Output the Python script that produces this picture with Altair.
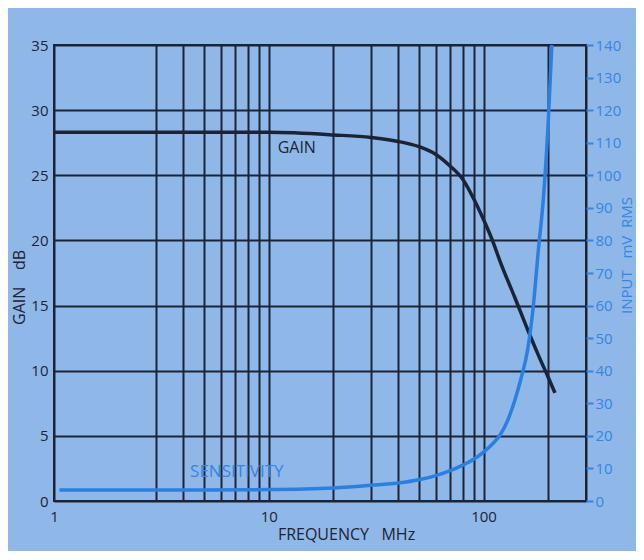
import altair as alt
import pandas as pd

# Gain curve (left axis, dB)
gain_freq = [1, 10, 20, 30, 40, 50, 60, 70, 80, 90, 100, 110, 120, 140, 160, 180, 200, 215]
gain_db = [28.3, 28.3, 28.1, 27.9, 27.6, 27.2, 26.6, 25.7, 24.7, 23.2, 21.6, 20.0, 18.3, 15.6, 13.2, 11.2, 9.5, 8.3]

# Sensitivity curve (right axis, mV RMS)
sens_freq = [1.06, 2, 5, 10, 20, 30, 40, 50, 60, 70, 80, 90, 100, 110, 120, 130, 140, 150, 160, 170, 180, 190, 200, 208]
sens_mv = [3.4, 3.4, 3.4, 3.5, 4.0, 4.8, 5.5, 6.5, 7.8, 9.3, 11.0, 12.8, 15.0, 17.5, 20.5, 25.0, 31.0, 38.0, 46.0, 59.0, 77.0, 93.0, 116.0, 140.0]

x_grid = [1, 3, 4, 5, 6, 7, 8, 9, 10, 20, 30, 40, 50, 60, 70, 80, 90, 100, 200, 300]
left_ticks = [0, 5, 10, 15, 20, 25, 30, 35]
right_ticks = [0, 10, 20, 30, 40, 50, 60, 70, 80, 90, 100, 110, 120, 130, 140]

NB = "\u00a0"
gain_label = pd.DataFrame({"f": [13.5], "v": [27.1], "t": ["GAIN"]})
sens_label = pd.DataFrame({"f": [7.1], "v": [8.9], "t": ["SENSITIVITY"]})

NAVY = "#1b2436"
BLUE = "#2b7fe0"
BLUE_TXT = "#3585e2"
BG = "#8fb8e8"
FONT = "Open Sans"

gain_df = pd.DataFrame({"f": gain_freq, "v": gain_db})
sens_df = pd.DataFrame({"f": sens_freq, "v": sens_mv})

xenc = alt.X(
    "f:Q",
    scale=alt.Scale(type="log", domain=[1, 300], nice=False),
    axis=alt.Axis(
        values=x_grid,
        labelExpr="(datum.value == 1 || datum.value == 10 || datum.value == 100) ? datum.label : ''",
        format="d",
        ticks=False,
        domain=False,
        grid=True,
        gridColor=NAVY,
        gridWidth=2,
        gridOpacity=1,
        labelColor=NAVY,
        labelFont=FONT,
        labelFontSize=15,
        labelPadding=8,
        labelFlush=False,
        labelOverlap=False,
        title="FREQUENCY" + NB * 3 + "MHz",
        titleColor=NAVY,
        titleFont=FONT,
        titleFontSize=16,
        titleFontWeight="normal",
        titleX=292,
        titleY=25,
        titleBaseline="top",
    ),
)

yleft = alt.Y(
    "v:Q",
    scale=alt.Scale(domain=[0, 35], nice=False),
    axis=alt.Axis(
        values=left_ticks,
        ticks=False,
        domain=False,
        grid=True,
        gridColor=NAVY,
        gridWidth=2,
        gridOpacity=1,
        labelColor=NAVY,
        labelFont=FONT,
        labelFontSize=15,
        labelPadding=6,
        labelFlush=False,
        title="GAIN" + NB * 4 + "dB",
        titleColor=NAVY,
        titleFont=FONT,
        titleFontSize=16,
        titleFontWeight="normal",
        titleX=-35,
        titleY=242,
        titleAngle=270,
        titleAlign="center",
        titleBaseline="middle",
    ),
)

yright = alt.Y(
    "v:Q",
    scale=alt.Scale(domain=[0, 140], nice=False),
    axis=alt.Axis(
        orient="right",
        values=right_ticks,
        ticks=True,
        tickColor=BLUE_TXT,
        tickSize=7,
        tickWidth=2,
        domain=False,
        grid=False,
        labelColor=BLUE_TXT,
        labelFont=FONT,
        labelFontSize=15,
        labelPadding=2,
        labelFlush=False,
        title="INPUT" + NB * 3 + "mV" + NB * 2 + "RMS",
        titleColor=BLUE_TXT,
        titleFont=FONT,
        titleFontSize=15,
        titleFontWeight="normal",
        titleX=40,
        titleY=210,
        titleAngle=270,
        titleAlign="center",
        titleBaseline="middle",
    ),
)

gain_line = alt.Chart(gain_df).mark_line(
    color=NAVY, strokeWidth=3.5, interpolate="monotone"
).encode(x=xenc, y=yleft)
gain_text = alt.Chart(gain_label).mark_text(
    color=NAVY, font=FONT, fontSize=16, align="center", baseline="middle"
).encode(x=xenc, y=yleft, text="t:N")

sens_line = alt.Chart(sens_df).mark_line(
    color=BLUE, strokeWidth=3.5, interpolate="monotone"
).encode(x=xenc, y=yright)
sens_text = alt.Chart(sens_label).mark_text(
    color=BLUE_TXT, font=FONT, fontSize=17, align="center", baseline="middle"
).encode(x=xenc, y=yright, text="t:N")

left = alt.layer(gain_line, gain_text)
right = alt.layer(sens_line, sens_text)

chart = (
    alt.layer(left, right)
    .resolve_scale(y="independent")
    .properties(
        width=532,
        height=456,
        padding={"left": 46, "top": 37, "right": 50, "bottom": 50},
        autosize=alt.AutoSizeParams(type="none"),
        background=BG,
    )
    .configure_view(stroke=NAVY, strokeWidth=2)
)

chart.save("out.html", embed_options={"renderer": "svg", "actions": False})
